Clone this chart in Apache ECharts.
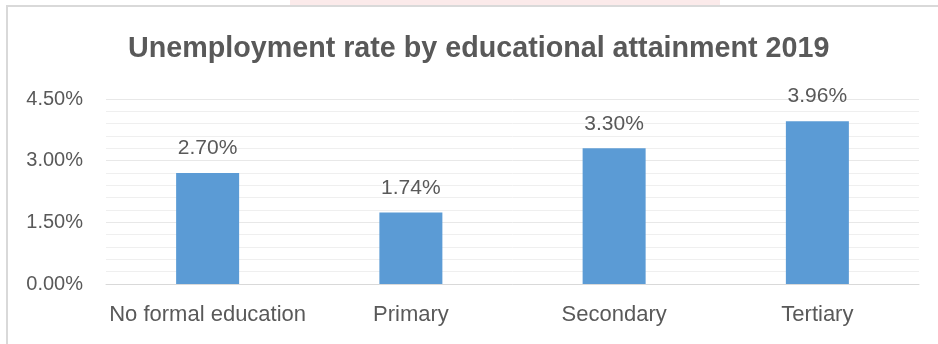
<!DOCTYPE html>
<html>
<head>
<meta charset="utf-8">
<script src="https://cdn.jsdelivr.net/npm/echarts@6/dist/echarts.min.js"></script>
<style>html,body{margin:0;padding:0;background:#fff;}#c{width:938px;height:344px;}</style>
</head>
<body>
<div id="c"></div>
<script>
var titleText = 'Unemployment rate by educational attainment 2019';
var categories = ['No formal education', 'Primary', 'Secondary', 'Tertiary'];
var values = [2.70, 1.74, 3.30, 3.96];
var yTicks = [0, 1.5, 3.0, 4.5];

var chart = echarts.init(document.getElementById('c'), null, {renderer: 'canvas'});
var font = '"Liberation Sans", Arial, sans-serif';
chart.setOption({
  backgroundColor: '#ffffff',
  animation: false,
  title: {
    text: titleText,
    left: 123,
    top: 30,
    textStyle: {fontFamily: font, fontSize: 28.7, fontWeight: 'bold', color: '#595959'}
  },
  graphic: [
    {type: 'rect', shape: {x: 290, y: 0, width: 430, height: 5}, style: {fill: '#fbeaea'}, silent: true},
    {type: 'line', shape: {x1: 6, y1: 6, x2: 938, y2: 6}, style: {stroke: '#d9d9d9', lineWidth: 2}, silent: true},
    {type: 'line', shape: {x1: 7, y1: 6, x2: 7, y2: 344}, style: {stroke: '#d9d9d9', lineWidth: 2}, silent: true}
  ],
  grid: {left: 106, right: 19, top: 99, bottom: 60, containLabel: false},
  xAxis: {
    type: 'category',
    data: categories,
    axisLine: {show: true, lineStyle: {color: '#d9d9d9', width: 1}},
    axisTick: {show: false},
    axisLabel: {fontFamily: font, fontSize: 22, color: '#595959', margin: 20, interval: 0}
  },
  yAxis: {
    type: 'value',
    min: yTicks[0],
    max: yTicks[yTicks.length - 1],
    interval: 1.5,
    axisLine: {show: false},
    axisTick: {show: false},
    axisLabel: {
      fontFamily: font, fontSize: 20, color: '#595959', margin: 23,
      formatter: function (v) { return v.toFixed(2) + '%'; }
    },
    splitLine: {show: true, lineStyle: {color: '#e8e8e8', width: 1}},
    minorTick: {show: false, splitNumber: 5},
    minorSplitLine: {show: true, lineStyle: {color: '#efefef', width: 1}}
  },
  series: [{
    type: 'bar',
    data: values,
    barWidth: '31%',
    itemStyle: {color: '#5b9bd5'},
    label: {
      show: true,
      position: 'top',
      distance: 14,
      fontFamily: font,
      fontSize: 21,
      color: '#595959',
      formatter: function (p) { return p.value.toFixed(2) + '%'; }
    }
  }]
});
</script>
</body>
</html>
